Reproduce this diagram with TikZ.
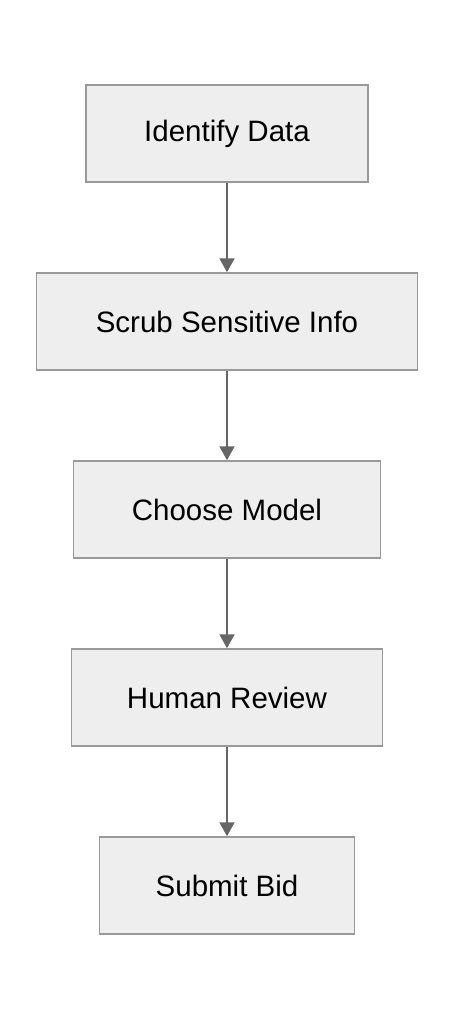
\documentclass[tikz,border=0pt]{standalone}
\usepackage{fontspec}
\setmainfont{Liberation Sans}
\usepackage{tikz}
\usetikzlibrary{positioning}
\usetikzlibrary{arrows.meta}
\definecolor{boxfill}{HTML}{EEEEEE}
\definecolor{boxline}{HTML}{999999}
\definecolor{arrowgray}{HTML}{666666}

\begin{document}
\begin{tikzpicture}[x=1pt,y=-1pt,
		stepbox/.style={draw=boxline,fill=boxfill,line width=1.5pt,minimum height=97pt,inner sep=0pt,font=\fontsize{29.5}{34}\selectfont},
		flow/.style={draw=arrowgray,line width=2pt,-{Triangle[length=14pt,width=15pt]}}]
				\useasboundingbox (0,0) rectangle (454,1020);
				%Nodes
				\node[stepbox,minimum width=282pt] (identify) at (227,133.5) {Identify Data};
				\node[stepbox,minimum width=381pt] (scrub) at (227,321.5) {Scrub Sensitive Info};
				\node[stepbox,minimum width=307pt] (model) at (227,509.5) {Choose Model};
				\node[stepbox,minimum width=311pt] (review) at (227,697.5) {Human Review};
				\node[stepbox,minimum width=255pt] (submit) at (227,885.5) {Submit Bid};

				%Lines
				\draw[flow] (identify) -- (scrub);
				\draw[flow] (scrub) -- (model);
				\draw[flow] (model) -- (review);
				\draw[flow] (review) -- (submit);
		\end{tikzpicture}
\end{document}
